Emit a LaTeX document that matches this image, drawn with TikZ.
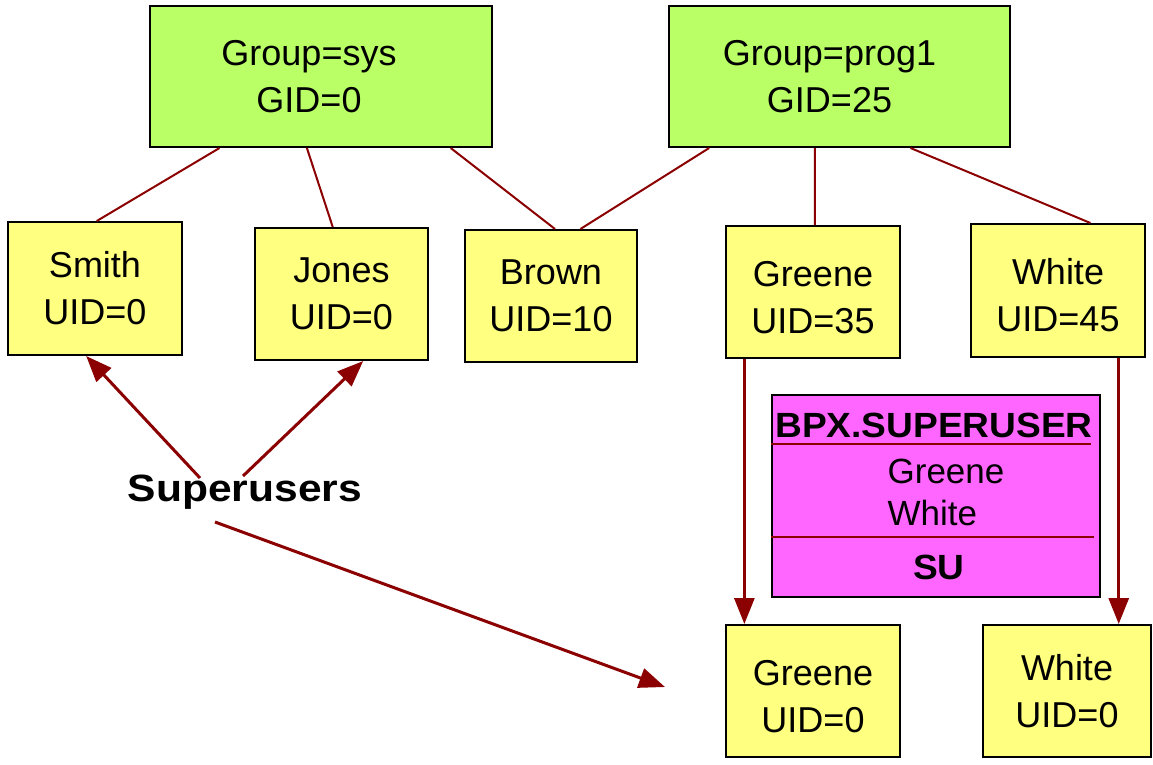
\documentclass[tikz,border=0pt]{standalone}
\usepackage{fontspec}
\setmainfont{Liberation Sans}
\usetikzlibrary{arrows.meta,calc}
\definecolor{boxyellow}{HTML}{FFFF80}
\definecolor{boxgreen}{HTML}{BBFF66}
\definecolor{boxmagenta}{HTML}{FF66FF}
\definecolor{linkred}{HTML}{8B0000}
\begin{document}
\begin{tikzpicture}[x=1pt,y=-1pt,
  box/.style={draw=black,line width=2pt,align=center,inner sep=0pt,
    font=\fontsize{36}{47}\selectfont},
  grp/.style={box,fill=boxgreen},
  usr/.style={box,fill=boxyellow},
  link/.style={draw=linkred,line width=2pt},
  arr/.style={draw=linkred,line width=3pt,-{Triangle[length=26pt,width=20pt]}},
  sep/.style={draw=linkred,line width=2.5pt}]
\useasboundingbox (0,0) rectangle (1153,764);
% groups
\node[grp,minimum width=342pt,minimum height=141pt] (sys) at (321,76.5) {Group=sys\hspace*{24pt}\\GID=0\hspace*{24pt}};
\node[grp,minimum width=341pt,minimum height=141pt] (prog) at (839.5,76.5) {Group=prog1\hspace*{20pt}\\GID=25\hspace*{20pt}};
% users
\node[usr,minimum width=174pt,minimum height=133pt] (smith) at (95,288.5) {Smith\\UID=0};
\node[usr,minimum width=173pt,minimum height=132pt] (jones) at (341.5,294) {Jones\\UID=0};
\node[usr,minimum width=172pt,minimum height=132pt] (brown) at (551,296) {Brown\\UID=10};
\node[usr,minimum width=174pt,minimum height=132pt] (greene) at (813,292) {\rule{0pt}{37pt}Greene\\UID=35};
\node[usr,minimum width=174pt,minimum height=133pt] (white) at (1058,290.5) {\rule{0pt}{35.5pt}White\\UID=45};
\node[usr,minimum width=174pt,minimum height=132pt] (greene0) at (813,691) {\rule{0pt}{35.5pt}Greene\\UID=0};
\node[usr,minimum width=168pt,minimum height=132pt] (white0) at (1067,691) {White\\UID=0};
% BPX.SUPERUSER
\node[draw=black,line width=2pt,fill=boxmagenta,minimum width=328pt,minimum height=202pt,inner sep=0pt] (bpx) at (936,496) {};
\node[font=\fontsize{35}{40}\selectfont\bfseries,inner sep=0pt] (bpxt) at (934,425) {\scalebox{1.06}[1]{BPX.SUPERUSER}};
\node[font=\fontsize{35}{42}\selectfont,align=left,inner sep=0pt] (bpxm) at (946,492) {Greene\\White};
\node[font=\fontsize{35}{40}\selectfont\bfseries,inner sep=0pt] (bpxs) at (939,567) {\scalebox{1.06}[1]{SU}};
\draw[sep] ($(bpx.north west)+(0,50)$) -- ($(bpx.north east)+(-10,50)$);
\draw[sep] ($(bpx.north west)+(0,143)$) -- ($(bpx.north east)+(-7,143)$);
% Superusers
\node[font=\fontsize{38}{40}\selectfont\bfseries,inner sep=0pt] (su) at (245,492) {\scalebox{1.12}[1]{Superusers}};
% group membership lines
\draw[link] ($(sys.south west)!0.205!(sys.south east)$) -- ($(smith.north west)!0.51!(smith.north east)$);
\draw[link] ($(sys.south west)!0.459!(sys.south east)$) -- ($(jones.north west)!0.45!(jones.north east)$);
\draw[link] ($(sys.south west)!0.877!(sys.south east)$) -- ($(brown.north west)!0.523!(brown.north east)$);
\draw[link] ($(prog.south west)!0.12!(prog.south east)$) -- ($(brown.north west)!0.669!(brown.north east)$);
\draw[link] ($(prog.south west)!0.428!(prog.south east)$) -- ($(greene.north west)!0.51!(greene.north east)$);
\draw[link] ($(prog.south west)!0.707!(prog.south east)$) -- ($(white.north west)!0.684!(white.north east)$);
% superuser arrows
\coordinate (suL) at ($(su.center)+(-45,-14)$);
\coordinate (suR) at ($(su.center)+(-2,-16)$);
\coordinate (suB) at ($(su.center)+(-30,30)$);
\coordinate (suEnd) at (665,687);
\draw[arr] (suL) -- ($(smith.south west)!0.45!(smith.south east)$);
\draw[arr] (suR) -- ($(jones.south west)!0.624!(jones.south east)$);
\draw[arr] (suB) -- (suEnd);
% su arrows
\coordinate (ga) at ($(greene.south west)!0.11!(greene.south east)$);
\coordinate (wa) at ($(white.south west)!0.845!(white.south east)$);
\draw[arr] (ga) -- (ga |- greene0.north);
\draw[arr] (wa) -- (wa |- white0.north);
\end{tikzpicture}
\end{document}
